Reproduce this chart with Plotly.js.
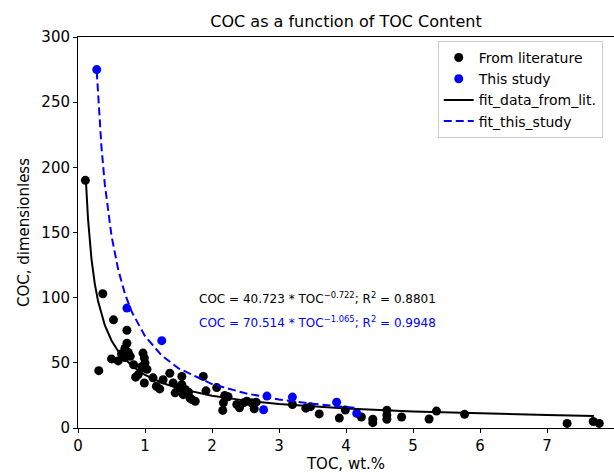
<!DOCTYPE html>
<html>
<head>
<meta charset="utf-8">
<script src="https://cdn.plot.ly/plotly-3.0.1.min.js"></script>
<style>html,body{margin:0;padding:0;background:#fff;}#chart{width:614px;height:473px;}</style>
</head>
<body>
<div id="chart"></div>
<script>
// Literature data (TOC wt.%, COC)
const litTOC = [0.11,0.31,0.37,0.53,0.50,0.60,0.70,0.73,0.73,0.70,0.75,0.78,0.65,0.83,0.86,0.90,0.95,0.97,0.99,1.00,1.03,0.99,0.99,1.12,1.17,1.22,1.27,1.37,1.42,1.50,1.55,1.55,1.45,1.60,1.57,1.65,1.67,1.70,1.75,1.87,1.91,2.07,2.19,2.24,2.17,2.16,2.37,2.41,2.47,2.52,2.59,2.63,2.66,3.20,3.40,3.47,3.60,3.90,3.99,4.23,4.40,4.40,4.61,4.61,4.61,4.83,5.24,5.35,5.77,7.30,7.69,7.78];
const litCOC = [190,44,103,83,53,51.5,54,75,65,61,58,55,57,48.5,39,41,47,57.5,53.7,50,45,46,34.5,38.5,32,30,37,42,34.6,30.8,39.6,33.3,27,29.5,25.6,27.4,23,21.8,20.5,39.6,28.5,31,25,24,19.3,13.5,18,15.5,19.3,20.5,19.3,14.7,19.8,18,15.2,16.4,10.8,7.6,13.8,8.4,6.7,4.1,13.7,9.9,6.7,8.4,6.9,13,10.5,3.5,5,3.5];

// This study
const studyTOC = [0.28,0.73,1.25,2.77,2.82,3.20,3.86,4.16];
const studyCOC = [275,92,67,14,24.5,23.7,19.8,11.2];

// Fit curves (COC = 40.723*TOC^-0.722 and 70.514*TOC^-1.065)
const fitLitTOC = [0.12,0.15,0.2,0.25,0.3,0.4,0.5,0.6,0.8,1.0,1.25,1.5,2,2.5,3,4,5,6,7,7.7];
const fitLitCOC = [188,160.2,130.2,110.8,97.2,78.9,67.2,58.9,47.8,40.7,34.7,30.4,24.7,21.0,18.4,15.0,12.7,11.2,10.0,9.3];
const fitStudyTOC = [0.28,0.3,0.35,0.4,0.5,0.6,0.7,0.8,1.0,1.25,1.5,2,2.5,3,3.5,4,4.16];
const fitStudyCOC = [273.6,254.2,215.7,187.1,147.5,121.5,103.1,89.4,70.5,55.6,45.8,33.7,26.6,21.9,18.6,16.1,15.4];

const xTicks = [0,1,2,3,4,5,6,7,8];
const yTicks = [0,50,100,150,200,250,300];

const font = 'DejaVu Sans, sans-serif';

const traces = [
  {x: litTOC, y: litCOC, mode: 'markers', type: 'scatter', name: 'From literature',
   marker: {color: '#000000', size: 9}},
  {x: studyTOC, y: studyCOC, mode: 'markers', type: 'scatter', name: 'This study',
   marker: {color: '#0000ff', size: 9}},
  {x: fitLitTOC, y: fitLitCOC, mode: 'lines', type: 'scatter', name: 'fit_data_from_lit.',
   line: {color: '#000000', width: 2}},
  {x: fitStudyTOC, y: fitStudyCOC, mode: 'lines', type: 'scatter', name: 'fit_this_study',
   line: {color: '#0000ff', width: 2, dash: '8px,4px'}}
];

const layout = {
  width: 614, height: 473,
  margin: {l: 78, r: 0, t: 37, b: 45},
  paper_bgcolor: '#ffffff', plot_bgcolor: '#ffffff',
  font: {family: font, size: 15, color: '#000'},
  title: {text: 'COC as a function of TOC Content', font: {family: font, size: 16, color: '#000'},
          x: 0.5635, xanchor: 'center', y: 0.955, yanchor: 'middle'},
  xaxis: {range: [0, 8], tickvals: xTicks, ticktext: xTicks.map(String), showgrid: false, zeroline: false,
          showline: true, linecolor: '#000', linewidth: 1, mirror: true,
          ticks: 'outside', ticklen: 4, tickcolor: '#000', tickfont: {size: 15},
          title: {text: 'TOC, wt.%', font: {size: 15}, standoff: 6}},
  yaxis: {range: [0, 300], tickvals: yTicks, ticktext: yTicks.map(String), showgrid: false, zeroline: false,
          showline: true, linecolor: '#000', linewidth: 1, mirror: true,
          ticks: 'outside', ticklen: 4, tickcolor: '#000', tickfont: {size: 15},
          title: {text: 'COC, dimensionless', font: {size: 15}, standoff: 8}},
  showlegend: true,
  legend: {x: 0.979, y: 0.99, xanchor: 'right', yanchor: 'top', bgcolor: '#ffffff',
           bordercolor: '#cccccc', borderwidth: 1, font: {size: 14}, itemwidth: 30,
           tracegroupgap: 0},
  annotations: [
    {x: 3.58, y: 100, xref: 'x', yref: 'y', showarrow: false,
     text: 'COC = 40.723 * TOC<sup>−0.722</sup>; R<sup>2</sup> = 0.8801',
     font: {size: 12, color: '#000'}},
    {x: 3.58, y: 81, xref: 'x', yref: 'y', showarrow: false,
     text: 'COC = 70.514 * TOC<sup>−1.065</sup>; R<sup>2</sup> = 0.9948',
     font: {size: 12, color: '#0000ff'}}
  ]
};

Plotly.newPlot('chart', traces, layout, {displayModeBar: false, staticPlot: true});
</script>
</body>
</html>
